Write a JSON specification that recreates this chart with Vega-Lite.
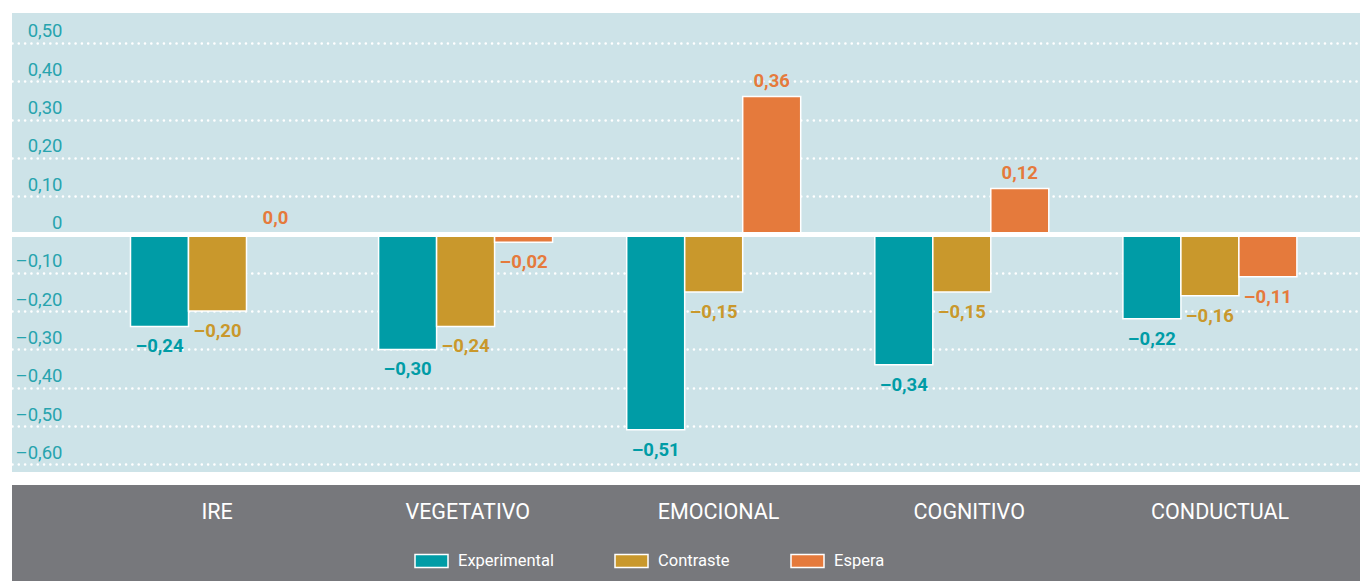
{
  "$schema": "https://vega.github.io/schema/vega-lite/v6.json",
  "padding": {"left": 12, "top": 13, "right": 0, "bottom": 0},
  "autosize": {"type": "pad"},
  "background": "white",
  "config": {
    "locale": {"number": {"decimal": ",", "thousands": ".", "grouping": [3], "currency": ["", " €"], "minus": "–"}},
    "font": "Roboto",
    "view": {"stroke": null},
    "concat": {"spacing": 13}
  },
  "datasets": {
    "d": [
      {"categoria": "IRE", "grupo": "Experimental", "valor": -0.24},
      {"categoria": "IRE", "grupo": "Contraste", "valor": -0.20},
      {"categoria": "IRE", "grupo": "Espera", "valor": 0.0},
      {"categoria": "VEGETATIVO", "grupo": "Experimental", "valor": -0.30},
      {"categoria": "VEGETATIVO", "grupo": "Contraste", "valor": -0.24},
      {"categoria": "VEGETATIVO", "grupo": "Espera", "valor": -0.02},
      {"categoria": "EMOCIONAL", "grupo": "Experimental", "valor": -0.51},
      {"categoria": "EMOCIONAL", "grupo": "Contraste", "valor": -0.15},
      {"categoria": "EMOCIONAL", "grupo": "Espera", "valor": 0.36},
      {"categoria": "COGNITIVO", "grupo": "Experimental", "valor": -0.34},
      {"categoria": "COGNITIVO", "grupo": "Contraste", "valor": -0.15},
      {"categoria": "COGNITIVO", "grupo": "Espera", "valor": 0.12},
      {"categoria": "CONDUCTUAL", "grupo": "Experimental", "valor": -0.22},
      {"categoria": "CONDUCTUAL", "grupo": "Contraste", "valor": -0.16},
      {"categoria": "CONDUCTUAL", "grupo": "Espera", "valor": -0.11}
    ]
  },
  "vconcat": [
    {
      "width": 1348,
      "height": 459,
      "view": {"fill": "#cde3e8", "stroke": null},
      "encoding": {
        "x": {"field": "categoria", "type": "nominal", "sort": ["IRE", "VEGETATIVO", "EMOCIONAL", "COGNITIVO", "CONDUCTUAL"],
              "scale": {"paddingInner": 0.2987, "paddingOuter": 0.366, "align": 0.6525}, "axis": null},
        "xOffset": {"field": "grupo", "type": "nominal", "sort": ["Experimental", "Contraste", "Espera"], "scale": {"paddingInner": 0, "paddingOuter": 0}},
        "y": {"field": "valor", "type": "quantitative",
              "scale": {"domain": [-0.6201, 0.5783], "nice": false, "zero": false},
              "axis": {"title": null, "orient": "left", "domain": false, "ticks": false, "tickSize": 0,
                       "values": [-0.6, -0.5, -0.4, -0.3, -0.2, -0.1, 0, 0.1, 0.2, 0.3, 0.4, 0.5],
                       "format": ".2f",
                       "labelExpr": "datum.value == 0 ? '0' : datum.label",
                       "labelPadding": -50, "labelAlign": "right", "labelBaseline": "alphabetic", "labelOffset": -6,
                       "labelColor": "#27a3ae", "labelFontSize": 18.5,
                       "grid": true, "gridColor": "white", "gridWidth": 2.6, "gridDash": [0.01, 6.3], "gridCap": "round", "gridOpacity": 1}},
        "color": {"field": "grupo", "type": "nominal",
                  "scale": {"domain": ["Experimental", "Contraste", "Espera"], "range": ["#009ca6", "#c9982c", "#e57a3c"]},
                  "legend": {"orient": "none", "legendX": 402, "legendY": 530, "direction": "horizontal", "title": null,
                             "symbolType": "M-1,-0.394L1,-0.394L1,0.394L-1,0.394Z", "symbolSize": 1089,
                             "symbolStrokeColor": "white", "symbolStrokeWidth": 1.5, "symbolOpacity": 1,
                             "labelColor": "white", "labelFontSize": 16.5, "labelOffset": 9, "columnPadding": 58, "padding": 0}}
      },
      "layer": [
        {"data": {"name": "d"}, "mark": {"type": "bar", "stroke": "white", "strokeWidth": 1.5, "opacity": 1}},
        {"data": {"values": [{"valor": 0}]}, "mark": {"type": "rule", "color": "white", "strokeWidth": 5, "clip": true},
         "encoding": {"x": null, "xOffset": null, "color": null, "y": {"field": "valor", "type": "quantitative"}}},
        {"data": {"name": "d"}, "transform": [{"filter": "datum.valor >= 0"}],
         "mark": {"type": "text", "fontWeight": "bold", "fontSize": 18.5, "baseline": "alphabetic", "dy": -10},
         "encoding": {"text": {"condition": {"test": "datum.valor === 0", "value": "0,0"}, "field": "valor", "type": "quantitative", "format": ".2f"}}},
        {"data": {"name": "d"}, "transform": [{"filter": "datum.valor < 0"}],
         "mark": {"type": "text", "fontWeight": "bold", "fontSize": 18.5, "baseline": "alphabetic", "dy": 26},
         "encoding": {"text": {"field": "valor", "type": "quantitative", "format": ".2f"}}}
      ]
    },
    {
      "width": 1348,
      "height": 96,
      "view": {"fill": "#77787c", "stroke": null},
      "data": {"name": "d"},
      "mark": {"type": "bar", "opacity": 0},
      "encoding": {
        "x": {"field": "categoria", "type": "nominal", "sort": ["IRE", "VEGETATIVO", "EMOCIONAL", "COGNITIVO", "CONDUCTUAL"],
              "scale": {"paddingInner": 0, "paddingOuter": 0.188, "align": 0.845},
              "axis": {"orient": "top", "title": null, "domain": false, "ticks": false, "tickSize": 0, "labelAngle": 0,
                       "labelPadding": -33, "labelBaseline": "alphabetic", "labelColor": "white", "labelFontSize": 21.5}}
      }
    }
  ],
  "resolve": {"scale": {"x": "independent"}}
}
